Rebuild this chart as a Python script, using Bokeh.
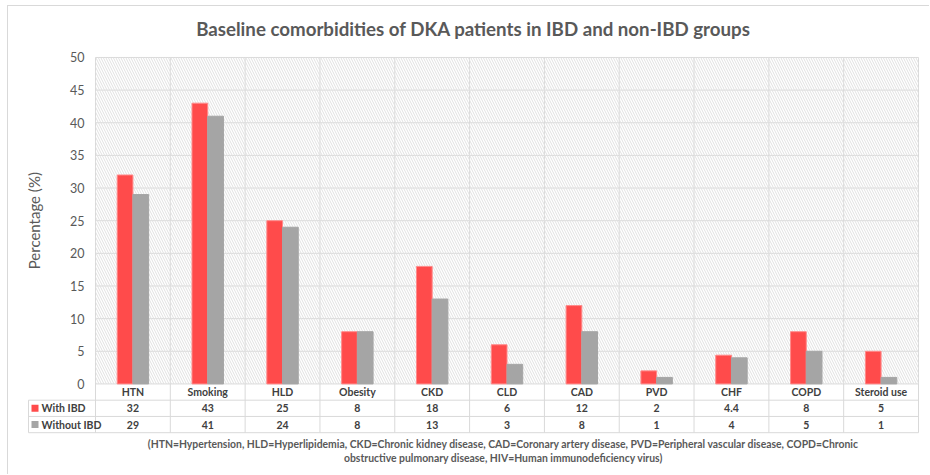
import math

from bokeh.plotting import figure
from bokeh.models import Range1d, BoxAnnotation
from bokeh.core.properties import value
from bokeh.embed import file_html
from bokeh.resources import INLINE

# Baseline comorbidities (%) of DKA patients
categories = ["HTN", "Smoking", "HLD", "Obesity", "CKD", "CLD", "CAD", "PVD", "CHF", "COPD", "Steroid use"]
with_ibd = [32, 43, 25, 8, 18, 6, 12, 2, 4.4, 8, 5]
without_ibd = [29, 41, 24, 8, 13, 3, 8, 1, 4, 5, 1]
series_names = ["With IBD", "Without IBD"]
y_ticks = [0, 5, 10, 15, 20, 25, 30, 35, 40, 45, 50]

title_text = "Baseline comorbidities of DKA patients in IBD and non-IBD groups"
y_label = "Percentage (%)"
note_lines = [
    "(HTN=Hypertension, HLD=Hyperlipidemia, CKD=Chronic kidney disease, CAD=Coronary artery disease, "
    "PVD=Peripheral vascular disease, COPD=Chronic",
    "obstructive pulmonary disease, HIV=Human immunodeficiency virus)",
]

RED = "#FF4B4B"
RED_EDGE = "#FF8A8A"
GRAY = "#A5A5A5"
GRID = "#D9D9D9"
TEXT = "#404040"
MUTED = "#595959"
FONT = "Lato"

n = len(categories)
y_max = 50
centers = [i + 0.5 for i in range(n)]
bar_w = 0.21

# pixel geometry of the plotting area (category band and value scale)
PX_X = 823 / n          # pixels per category
PX_Y = 328 / y_max      # pixels per percentage point
row_h = (49 / 3) / PX_Y  # height of one data-table row, in data units
key_w = 67 / PX_X        # width of the data-table legend column, in data units
table_bottom = -3 * row_h

p = figure(width=922, height=469,
           x_range=Range1d(-(68 / PX_X), n + 1 / PX_X),
           y_range=Range1d(-(92 / PX_Y), y_max + 9 / PX_Y),
           output_backend="svg", toolbar_location=None,
           x_axis_location=None, y_axis_location=None,
           min_border_left=19, min_border_right=11, min_border_top=40, min_border_bottom=0,
           margin=(5, 0, 0, 7),
           styles={"border-top": "1px solid #D9D9D9", "border-left": "1px solid #D9D9D9"})
p.outline_line_color = None
p.background_fill_color = "white"
p.xgrid.visible = False
p.ygrid.visible = False

p.title.text = title_text
p.title.text_font = FONT
p.title.text_font_size = "18.7px"
p.title.text_font_style = "bold"
p.title.text_color = MUTED
p.title.align = "center"
p.title.standoff = 18

# hatched plot area
p.add_layout(BoxAnnotation(left=0, right=n, bottom=0, top=y_max, fill_alpha=0, line_alpha=0,
                           hatch_pattern="\\", hatch_color="#E1E1E1", hatch_scale=5,
                           hatch_weight=1, level="underlay"))

# category boundaries run through the chart and the data table
bounds = list(range(n + 1))
p.segment(x0=bounds, y0=[table_bottom] * len(bounds), x1=bounds, y1=[y_max] * len(bounds),
          line_color=GRID, line_width=1, level="underlay")

# value gridlines across the category band
p.segment(x0=[0] * len(y_ticks), y0=y_ticks, x1=[n] * len(y_ticks), y1=y_ticks,
          line_color=GRID, line_width=1, level="underlay")

# value tick labels and axis title
p.text(x=[-11 / PX_X] * len(y_ticks), y=y_ticks, text=[str(t) for t in y_ticks],
       text_font=value(FONT), text_font_size="12.5px", text_color=MUTED,
       text_align="right", text_baseline="middle")
p.text(x=[-61.5 / PX_X], y=[y_max / 2], text=[y_label], angle=math.pi / 2,
       text_font=value(FONT), text_font_size="15px", text_color=MUTED,
       text_align="center", text_baseline="middle")

# bars
p.vbar(x=[c - bar_w / 2 for c in centers], width=bar_w, top=with_ibd, bottom=0,
       fill_color=RED, line_color=RED_EDGE, line_width=1)
p.vbar(x=[c + bar_w / 2 for c in centers], width=bar_w, top=without_ibd, bottom=0,
       fill_color=GRAY, line_color=GRAY, line_width=1)

# data table: row separators and legend-column edge
rows_y = [-row_h, -2 * row_h, table_bottom]
p.segment(x0=[-key_w] * 3, y0=rows_y, x1=[n] * 3, y1=rows_y, line_color=GRID, line_width=1)
p.segment(x0=[-key_w], y0=[-row_h], x1=[-key_w], y1=[table_bottom], line_color=GRID, line_width=1)

cell_style = dict(text_font=value(FONT), text_font_size="10.5px", text_font_style="bold",
                  text_color=TEXT, text_align="center", text_baseline="middle")
p.text(x=centers, y=[-0.5 * row_h] * n, text=categories, **cell_style)
p.text(x=centers, y=[-1.5 * row_h] * n, text=[f"{v:g}" for v in with_ibd], **cell_style)
p.text(x=centers, y=[-2.5 * row_h] * n, text=[f"{v:g}" for v in without_ibd], **cell_style)

# legend keys in the first table column
key_x = -key_w + 6.5 / PX_X
p.scatter(x=[key_x, key_x], y=[-1.5 * row_h, -2.5 * row_h], marker="square", size=7,
          fill_color=[RED, GRAY], line_color=None)
p.text(x=[-key_w + 13 / PX_X] * 2, y=[-1.5 * row_h, -2.5 * row_h], text=series_names,
       text_font=value(FONT), text_font_size="10.5px", text_font_style="bold",
       text_color=TEXT, text_align="left", text_baseline="middle")

# abbreviation note under the table
note_x = (n / 2) - 3.5 / PX_X
p.text(x=[note_x, note_x], y=[-60 / PX_Y, -74 / PX_Y], text=note_lines,
       text_font=value(FONT), text_font_size="10.4px", text_font_style="bold",
       text_color=MUTED, text_align="center", text_baseline="middle")

open("out.html", "w").write(file_html(p, INLINE))
